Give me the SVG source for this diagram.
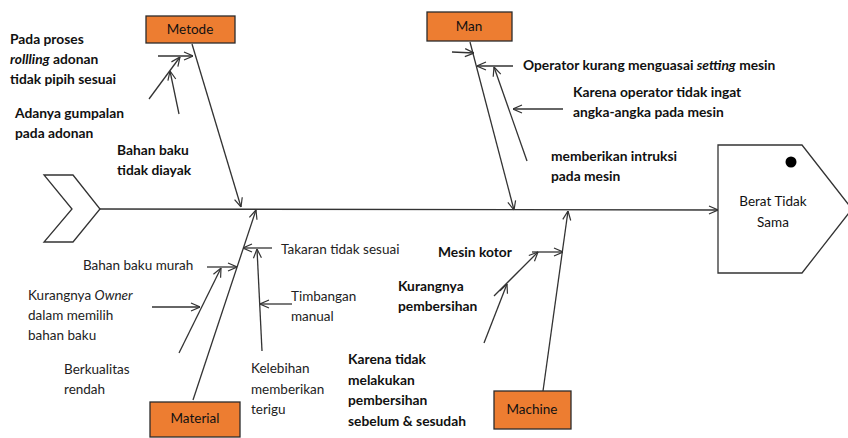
<svg xmlns="http://www.w3.org/2000/svg" width="848" height="438" viewBox="0 0 848 438">
<defs>
<marker id="ah" viewBox="0 0 10 10" refX="10" refY="5" markerWidth="10" markerHeight="10" markerUnits="userSpaceOnUse" orient="auto">
<path d="M1,1 L10,5 L1,9" fill="none" stroke="#333" stroke-width="1.2"/>
</marker>
<style>
.ln{stroke:#333;stroke-width:1.3;fill:none}
.ar{stroke:#333;stroke-width:1.3;fill:none;marker-end:url(#ah)}
.box{fill:#ED7D31;stroke:#2b2b2b;stroke-width:1.3}
.bl{font-family:Lato,"Open Sans",sans-serif;font-size:13.5px;fill:#111;text-anchor:middle}
.b{font-family:Lato,"Open Sans",sans-serif;font-size:13.8px;font-weight:bold;fill:#111}
.r{font-family:Lato,"Open Sans",sans-serif;font-size:13.5px;fill:#222}
</style>
</defs>
<rect width="848" height="438" fill="#fff"/>

<g id="tail">
<polygon points="44,175 73,175 100,209 73,242 44,242 72,209" fill="#fff" stroke="#333" stroke-width="1.3"/>
</g>

<g id="head">
<polygon points="718,145 802,145 852,209 802,273 718,273" fill="#fff" stroke="#333" stroke-width="1.3"/>
<circle cx="791" cy="162" r="5.5" fill="#000"/>
<text class="bl" x="773" y="206">Berat Tidak</text>
<text class="bl" x="773" y="227">Sama</text>
</g>

<g id="connectors">
<line class="ar" x1="100" y1="209" x2="718" y2="210"/>
<!-- Metode -->
<line class="ar" x1="192" y1="44" x2="241" y2="207"/>
<line class="ar" x1="158" y1="56" x2="193" y2="56"/>
<line class="ar" x1="149" y1="99" x2="180" y2="57"/>
<line class="ar" x1="179" y1="114" x2="170" y2="71"/>
<!-- Man -->
<line class="ar" x1="470" y1="42" x2="514" y2="210"/>
<line class="ar" x1="452" y1="52" x2="474" y2="53"/>
<line class="ar" x1="513" y1="66" x2="477" y2="66"/>
<line class="ar" x1="527" y1="161" x2="494" y2="67"/>
<line class="ar" x1="563" y1="109" x2="513" y2="109"/>
<!-- Material -->
<line class="ar" x1="193" y1="400" x2="256" y2="210"/>
<line class="ar" x1="272" y1="248" x2="243" y2="248"/>
<line class="ar" x1="262" y1="351" x2="257" y2="249"/>
<line class="ar" x1="292" y1="304" x2="260" y2="304"/>
<line class="ar" x1="207" y1="267" x2="237" y2="267"/>
<line class="ar" x1="179" y1="353" x2="221" y2="268"/>
<line class="ar" x1="152" y1="307" x2="200" y2="307"/>
<!-- Machine -->
<line class="ar" x1="543" y1="391" x2="568" y2="211"/>
<line class="ar" x1="532" y1="252" x2="563" y2="252"/>
<line class="ar" x1="494" y1="296" x2="538" y2="252"/>
<line class="ar" x1="484" y1="343" x2="507" y2="284"/>
</g>

<g id="metode">
<rect class="box" x="146" y="16" width="89" height="27"/>
<text class="bl" x="190" y="34">Metode</text>
</g>
<g id="man">
<rect class="box" x="427" y="12" width="85" height="29"/>
<text class="bl" x="469" y="31">Man</text>
</g>
<g id="material">
<rect class="box" x="150" y="402" width="90" height="35"/>
<text class="bl" x="195" y="423">Material</text>
</g>
<g id="machine">
<rect class="box" x="494" y="391" width="77" height="38"/>
<text class="bl" x="532" y="414">Machine</text>
</g>

<g id="cause-metode-1"><text class="b" x="10" y="44">Pada proses</text><text class="b" x="10" y="64"><tspan font-style="italic">rollling</tspan> adonan</text><text class="b" x="10" y="84">tidak pipih sesuai</text></g>
<g id="cause-metode-2"><text class="b" x="15" y="118">Adanya gumpalan</text><text class="b" x="15" y="138">pada adonan</text></g>
<g id="cause-metode-3"><text class="b" x="117" y="155">Bahan baku</text><text class="b" x="117" y="175">tidak diayak</text></g>

<g id="cause-man-1"><text class="b" x="523" y="70">Operator kurang menguasai <tspan font-style="italic">setting</tspan> mesin</text></g>
<g id="cause-man-2"><text class="b" x="573" y="97">Karena operator tidak ingat</text><text class="b" x="573" y="117">angka-angka pada mesin</text></g>
<g id="cause-man-3"><text class="b" x="551" y="161">memberikan intruksi</text><text class="b" x="551" y="181">pada mesin</text></g>

<g id="cause-material-1"><text class="r" x="281" y="254">Takaran tidak sesuai</text></g>
<g id="cause-material-2"><text class="r" x="83" y="270">Bahan baku murah</text></g>
<g id="cause-material-3"><text class="r" x="291" y="301">Timbangan</text><text class="r" x="291" y="321">manual</text></g>
<g id="cause-material-4"><text class="r" x="28" y="300">Kurangnya <tspan font-style="italic">Owner</tspan></text><text class="r" x="28" y="320">dalam memilih</text><text class="r" x="28" y="340">bahan baku</text></g>
<g id="cause-material-5"><text class="r" x="64" y="374">Berkualitas</text><text class="r" x="64" y="394">rendah</text></g>
<g id="cause-material-6"><text class="r" x="251" y="373">Kelebihan</text><text class="r" x="251" y="394">memberikan</text><text class="r" x="251" y="414">terigu</text></g>

<g id="cause-machine-1"><text class="b" x="438" y="257">Mesin kotor</text></g>
<g id="cause-machine-2"><text class="b" x="398" y="291">Kurangnya</text><text class="b" x="398" y="311">pembersihan</text></g>
<g id="cause-machine-3"><text class="b" x="348" y="364">Karena tidak</text><text class="b" x="348" y="385">melakukan</text><text class="b" x="348" y="405">pembersihan</text><text class="b" x="348" y="426">sebelum &amp; sesudah</text></g>
</svg>
